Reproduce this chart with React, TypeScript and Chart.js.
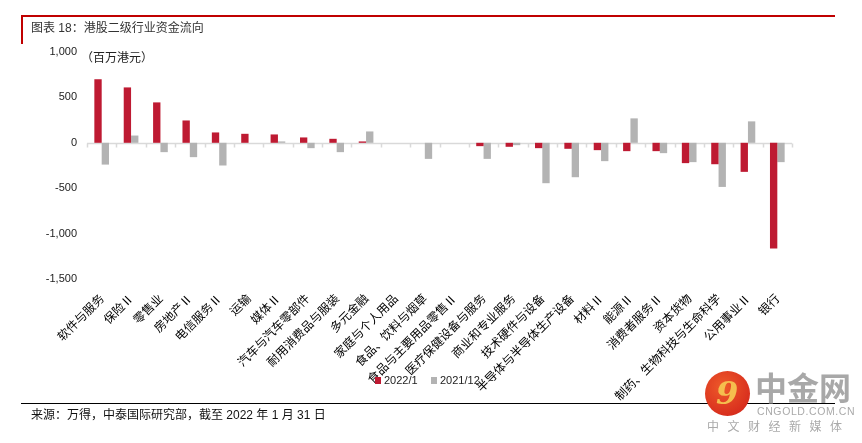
import React, { useEffect, useRef } from "react";
import { Chart, registerables } from "chart.js";

Chart.register(...registerables);

const categories = [
  "软件与服务",
  "保险Ⅱ",
  "零售业",
  "房地产Ⅱ",
  "电信服务Ⅱ",
  "运输",
  "媒体Ⅱ",
  "汽车与汽车零部件",
  "耐用消费品与服装",
  "多元金融",
  "家庭与个人用品",
  "食品、饮料与烟草",
  "食品与主要用品零售Ⅱ",
  "医疗保健设备与服务",
  "商业和专业服务",
  "技术硬件与设备",
  "半导体与半导体生产设备",
  "材料Ⅱ",
  "能源Ⅱ",
  "消费者服务Ⅱ",
  "资本货物",
  "制药、生物科技与生命科学",
  "公用事业Ⅱ",
  "银行",
];

const seriesJan2022 = [
  700, 610, 445, 246, 114, 99, 92, 59, 44, 15, 0, 0,
  0, -37, -44, -59, -66, -81, -92, -92, -224, -236, -320, -1163,
];

const seriesDec2021 = [
  -240, 80, -103, -158, -250, 0, 15, -59, -103, 125, 0, -177,
  0, -177, -26, -445, -379, -202, 269, -114, -213, -486, 236, -213,
];

const seriesLabels = ["2022/1", "2021/12"];
const seriesColors = ["#BE1A32", "#B3B3B3"];
const yMin = -1500;
const yMax = 1000;
const yStep = 500;

const zeroLinePlugin = {
  id: "zeroLine",
  beforeDatasetsDraw(chart: any) {
    const { ctx, chartArea, scales } = chart;
    const y = Math.round(scales.y.getPixelForValue(0)) + 0.5;
    const xs = scales.x;
    const n = categories.length;
    const half = (xs.getPixelForValue(1) - xs.getPixelForValue(0)) / 2;
    ctx.save();
    ctx.strokeStyle = "#D9D9D9";
    ctx.lineWidth = 1.5;
    ctx.beginPath();
    ctx.moveTo(chartArea.left, y);
    ctx.lineTo(chartArea.right, y);
    for (let i = 0; i <= n; i++) {
      const x = Math.round(xs.getPixelForValue(i) - half) + 0.5;
      ctx.moveTo(x, y);
      ctx.lineTo(x, y + 4);
    }
    ctx.stroke();
    ctx.restore();
  },
};

export default function App() {
  const canvasRef = useRef<HTMLCanvasElement>(null);

  useEffect(() => {
    if (!canvasRef.current) return;
    const chart = new Chart(canvasRef.current, {
      type: "bar",
      data: {
        labels: categories,
        datasets: [
          {
            label: seriesLabels[0],
            data: seriesJan2022,
            backgroundColor: seriesColors[0],
            categoryPercentage: 0.5,
            barPercentage: 1.0,
          },
          {
            label: seriesLabels[1],
            data: seriesDec2021,
            backgroundColor: seriesColors[1],
            categoryPercentage: 0.5,
            barPercentage: 1.0,
          },
        ],
      },
      options: {
        animation: false,
        responsive: false,
        devicePixelRatio: 1,
        layout: { padding: { top: 52, left: 0, right: 70, bottom: 0 } },
        plugins: {
          legend: { display: false },
          tooltip: { enabled: false },
        },
        scales: {
          x: {
            grid: { display: false },
            border: { display: false },
            ticks: {
              autoSkip: false,
              minRotation: 45,
              maxRotation: 45,
              padding: 4,
              color: "#000",
              font: { family: "'Noto Sans CJK SC'", size: 12 },
            },
            afterFit: (s: any) => {
              s.height = 164;
            },
          },
          y: {
            min: yMin,
            max: yMax,
            grid: { display: false },
            border: { display: false },
            ticks: {
              stepSize: yStep,
              padding: 2,
              color: "#222",
              font: { family: "'Liberation Sans'", size: 11 },
              callback: (v: any) => Number(v).toLocaleString("en-US"),
            },
            afterFit: (s: any) => {
              s.width = 87;
            },
          },
        },
      },
      plugins: [zeroLinePlugin],
    });
    return () => chart.destroy();
  }, []);

  const base: React.CSSProperties = {
    position: "absolute",
    whiteSpace: "nowrap",
    fontFamily: "'Liberation Sans', 'Noto Sans CJK SC', sans-serif",
  };

  return (
    <div
      style={{
        position: "absolute",
        left: 0,
        top: 0,
        width: 862,
        height: 443,
        background: "#fff",
        overflow: "hidden",
      }}
    >
      <canvas
        ref={canvasRef}
        width={862}
        height={443}
        style={{ position: "absolute", left: 0, top: 0, width: 862, height: 443 }}
      />
      {/* header frame */}
      <div style={{ position: "absolute", left: 21, top: 15, width: 814, height: 1.5, background: "#C00000" }} />
      <div style={{ position: "absolute", left: 21, top: 15, width: 1.5, height: 29, background: "#C00000" }} />
      <div style={{ ...base, left: 31, top: 20, fontSize: 12, color: "#333", lineHeight: "17px" }}>
        图表 18：港股二级行业资金流向
      </div>
      <div style={{ ...base, left: 81, top: 50, fontSize: 12, color: "#222", lineHeight: "16px" }}>
        （百万港元）
      </div>
      {/* legend */}
      <div style={{ position: "absolute", left: 375, top: 377, width: 6, height: 7, background: seriesColors[0] }} />
      <div style={{ ...base, left: 384, top: 373, fontSize: 11, color: "#222", lineHeight: "14px" }}>
        {seriesLabels[0]}
      </div>
      <div style={{ position: "absolute", left: 431, top: 377, width: 6, height: 7, background: seriesColors[1] }} />
      <div style={{ ...base, left: 440, top: 373, fontSize: 11, color: "#222", lineHeight: "14px" }}>
        {seriesLabels[1]}
      </div>
      {/* footer */}
      <div style={{ position: "absolute", left: 21, top: 403, width: 814, height: 1, background: "#000" }} />
      <div style={{ ...base, left: 31, top: 407, fontSize: 12, color: "#111", lineHeight: "16px" }}>
        来源：万得，中泰国际研究部，截至 2022 年 1 月 31 日
      </div>
      {/* watermark */}
      <div
        style={{
          position: "absolute",
          left: 705,
          top: 371,
          width: 45,
          height: 45,
          borderRadius: "50%",
          background: "radial-gradient(circle at 40% 35%, #EE5A2A 0%, #D9301E 70%, #C8261A 100%)",
        }}
      >
        <div
          style={{
            position: "absolute",
            left: 11,
            top: 3,
            fontSize: 32,
            fontWeight: 700,
            fontStyle: "italic",
            color: "#F5BE4E",
            fontFamily: "'DejaVu Serif', serif",
            lineHeight: "38px",
          }}
        >
          9
        </div>
      </div>
      <div
        style={{
          ...base,
          left: 755,
          top: 366,
          fontSize: 32,
          fontWeight: 700,
          color: "#A8A8A8",
          lineHeight: "40px",
          fontFamily: "'Noto Sans CJK SC', sans-serif",
        }}
      >
        中金网
      </div>
      <div style={{ ...base, left: 757, top: 405, fontSize: 10.5, color: "#AAA", lineHeight: "13px", letterSpacing: 0.6 }}>
        CNGOLD.COM.CN
      </div>
      <div
        style={{
          ...base,
          left: 707,
          top: 418,
          fontSize: 12,
          color: "#AAA",
          lineHeight: "16px",
          letterSpacing: 8.5,
          fontFamily: "'Noto Sans CJK SC', sans-serif",
        }}
      >
        中文财经新媒体
      </div>
    </div>
  );
}
